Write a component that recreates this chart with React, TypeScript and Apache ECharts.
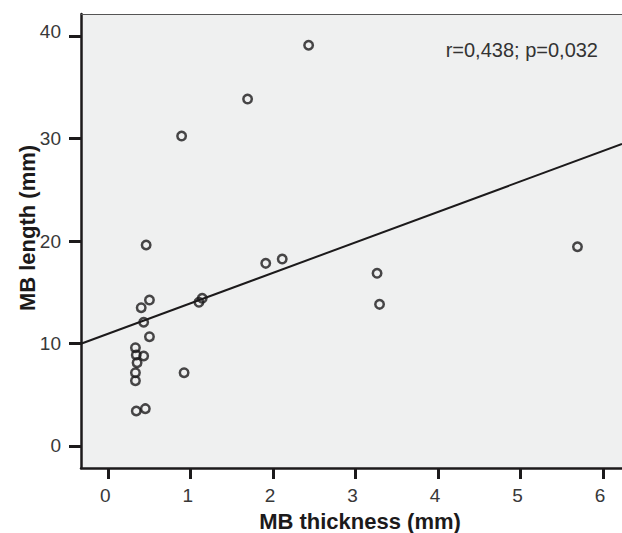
import React, { useEffect, useRef } from "react";
import * as echarts from "echarts";

// MB thickness (mm) and MB length (mm), one entry per patient
const thicknessMm = [2.43, 1.69, 0.89, 3.26, 3.29, 5.69, 0.46, 1.91, 2.11, 0.5, 0.4, 0.43, 0.5, 0.33, 0.34, 0.43, 0.35, 0.33, 0.33, 0.92, 0.34, 0.45, 1.1, 1.14];
const lengthMm = [39.1, 33.85, 30.24, 16.85, 13.82, 19.44, 19.61, 17.82, 18.24, 14.24, 13.49, 12.07, 10.66, 9.59, 8.88, 8.78, 8.13, 7.15, 6.37, 7.15, 3.41, 3.64, 14.02, 14.41];

const xTicks = [0, 1, 2, 3, 4, 5, 6];
const yTicks = [0, 10, 20, 30, 40];
const xRange = [-0.33, 6.23];
const yRange = [-2.15, 42.15];

const xTitle = "MB thickness (mm)";
const yTitle = "MB length (mm)";
const annotation = "r=0,438; p=0,032";

function linearFit(xs: number[], ys: number[]) {
  const n = xs.length;
  const mx = xs.reduce((a, b) => a + b, 0) / n;
  const my = ys.reduce((a, b) => a + b, 0) / n;
  let sxy = 0;
  let sxx = 0;
  for (let i = 0; i < n; i++) {
    sxy += (xs[i] - mx) * (ys[i] - my);
    sxx += (xs[i] - mx) * (xs[i] - mx);
  }
  const slope = sxy / sxx;
  return { slope, intercept: my - slope * mx };
}

const FONT = "'Liberation Sans', Arial, sans-serif";
const INK = "#1c1a1b";
const LABEL = "#383838";

export default function App() {
  const ref = useRef<HTMLDivElement>(null);

  useEffect(() => {
    if (!ref.current) return;
    const chart = echarts.init(ref.current, null, { renderer: "svg" });
    const fit = linearFit(thicknessMm, lengthMm);
    const points = thicknessMm.map((x, i) => [x, lengthMm[i]]);
    const fitLine = xRange.map((x) => [x, fit.intercept + fit.slope * x]);

    chart.setOption({
      animation: false,
      backgroundColor: "#ffffff",
      grid: {
        left: 81,
        top: 14,
        right: 0,
        bottom: 65,
        show: true,
        backgroundColor: "#eff0f0",
        borderWidth: 0,
      },
      xAxis: [
        {
          type: "value",
          min: xRange[0],
          max: xRange[1],
          position: "bottom",
          axisLine: { show: true, onZero: false, lineStyle: { color: INK, width: 2.5 } },
          axisTick: { show: true, customValues: xTicks, length: 11, lineStyle: { color: INK, width: 3 } },
          axisLabel: {
            customValues: xTicks,
            margin: 18,
            color: LABEL,
            fontSize: 19,
            fontFamily: FONT,
            padding: [0, 6, 0, 0],
          },
          splitLine: { show: false },
        },
        {
          type: "value",
          min: xRange[0],
          max: xRange[1],
          position: "top",
          axisLine: { show: true, onZero: false, lineStyle: { color: "#555555", width: 1 } },
          axisTick: { show: false },
          axisLabel: { show: false },
          splitLine: { show: false },
        },
      ],
      yAxis: {
        type: "value",
        min: yRange[0],
        max: yRange[1],
        axisLine: { show: true, onZero: false, lineStyle: { color: INK, width: 2.5 } },
        axisTick: { show: true, customValues: yTicks, length: 12, lineStyle: { color: INK, width: 3 } },
        axisLabel: {
          customValues: yTicks,
          margin: 20,
          color: LABEL,
          fontSize: 19,
          fontFamily: FONT,
          formatter: (v: number) => (v === 40 ? `{up|${v}}` : `${v}`),
          rich: {
            up: { fontSize: 19, fontFamily: FONT, color: LABEL, padding: [0, 0, 10, 0] },
          },
        },
        splitLine: { show: false },
      },
      series: [
        {
          type: "line",
          data: fitLine,
          xAxisIndex: 0,
          symbol: "none",
          silent: true,
          lineStyle: { color: INK, width: 2 },
          z: 2,
        },
        {
          type: "scatter",
          data: points,
          xAxisIndex: 0,
          symbol: "circle",
          symbolSize: 8.5,
          silent: true,
          itemStyle: { color: "rgba(0,0,0,0)", borderColor: INK, borderWidth: 2.5 },
          z: 3,
        },
      ],
      graphic: [
        {
          type: "text",
          x: 598,
          y: 50,
          style: {
            text: annotation,
            fontSize: 20,
            fontFamily: FONT,
            fill: "#333333",
            align: "right",
            verticalAlign: "middle",
          },
        },
        {
          type: "text",
          x: 360,
          y: 521,
          style: {
            text: xTitle,
            fontSize: 22,
            fontWeight: "bold",
            fontFamily: FONT,
            fill: INK,
            align: "center",
            verticalAlign: "middle",
          },
        },
        {
          type: "text",
          x: 27,
          y: 228,
          rotation: Math.PI / 2,
          style: {
            text: yTitle,
            fontSize: 22,
            fontWeight: "bold",
            fontFamily: FONT,
            fill: INK,
            align: "center",
            verticalAlign: "middle",
          },
        },
      ],
    });

    return () => chart.dispose();
  }, []);

  return (
    <div
      ref={ref}
      style={{ position: "absolute", left: 0, top: 0, width: 622, height: 533 }}
    />
  );
}
